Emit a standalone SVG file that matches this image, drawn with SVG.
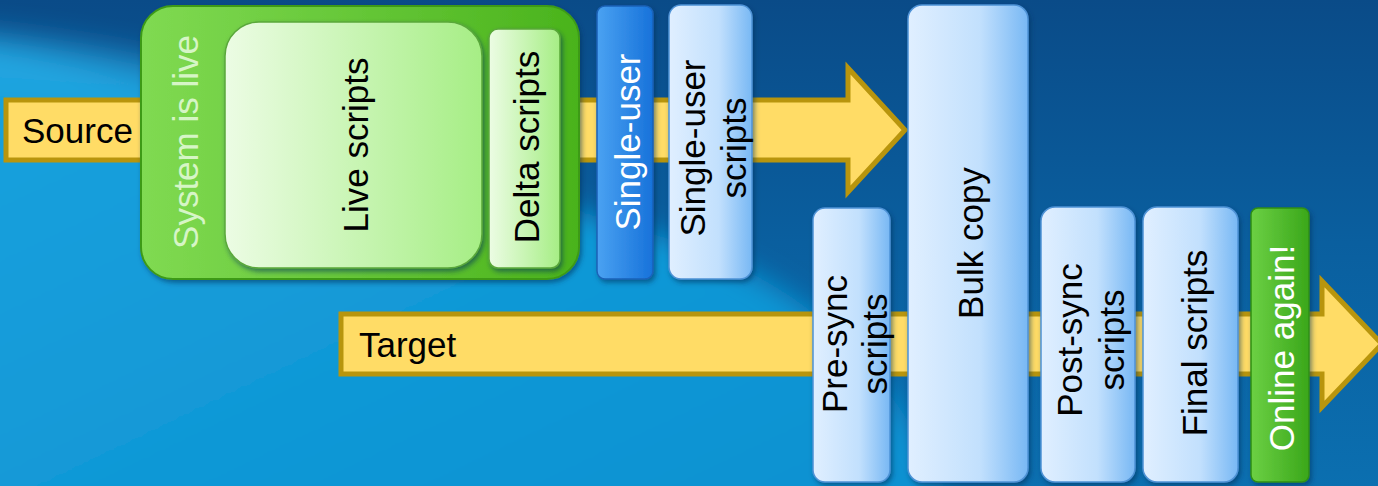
<svg xmlns="http://www.w3.org/2000/svg" width="1378" height="486" viewBox="0 0 1378 486">
<defs>
<linearGradient id="bg" x1="0" y1="0" x2="0" y2="1">
<stop offset="0" stop-color="#0a4b88"/>
<stop offset="0.5" stop-color="#0a5f9f"/>
<stop offset="1" stop-color="#0b6fb0"/>
</linearGradient>
<linearGradient id="swoosh" x1="0" y1="0" x2="1" y2="1">
<stop offset="0" stop-color="#18a2de"/>
<stop offset="1" stop-color="#0b90d0"/>
</linearGradient>
<linearGradient id="gOuter" x1="0" y1="0" x2="1" y2="0">
<stop offset="0" stop-color="#80da52"/>
<stop offset="1" stop-color="#4ab31c"/>
</linearGradient>
<linearGradient id="gInner" x1="0" y1="0" x2="1" y2="0">
<stop offset="0" stop-color="#ecfce4"/>
<stop offset="1" stop-color="#a6ee85"/>
</linearGradient>
<linearGradient id="gOnline" x1="0" y1="0" x2="1" y2="0">
<stop offset="0" stop-color="#6cd044"/>
<stop offset="1" stop-color="#3aa71a"/>
</linearGradient>
<linearGradient id="bLight" x1="0" y1="0" x2="1" y2="0">
<stop offset="0" stop-color="#e0efff"/>
<stop offset="0.6" stop-color="#c2e0fd"/>
<stop offset="1" stop-color="#78b8f4"/>
</linearGradient>
<linearGradient id="bDark" x1="0" y1="0" x2="1" y2="0">
<stop offset="0" stop-color="#4aa2f2"/>
<stop offset="1" stop-color="#1772da"/>
</linearGradient>
<filter id="sh" x="-20%" y="-10%" width="140%" height="120%">
<feDropShadow dx="2" dy="3" stdDeviation="2.5" flood-color="#02305a" flood-opacity="0.55"/>
</filter>
<filter id="blur" x="-10%" y="-10%" width="120%" height="120%">
<feGaussianBlur stdDeviation="14"/>
</filter>
</defs>
<style>
.arrow{fill:#ffdc66;stroke:#b8950d;stroke-width:5;stroke-linejoin:miter}
.t{font-family:"Liberation Sans",Arial,sans-serif;font-size:35px;fill:#000}
.w{fill:#ffffff}
.lg{fill:#d6f5c6}
.light{fill:url(#bLight);stroke:#4e92d6;stroke-width:1.5}
.dark{fill:url(#bDark);stroke:#1a62b8;stroke-width:1.5}
</style>
<rect x="0" y="0" width="1378" height="486" fill="url(#bg)"/>
<g filter="url(#blur)">
<path d="M-40 40 C 200 80, 420 170, 620 225 C 790 270, 880 340, 960 520 L -40 520 Z" fill="url(#swoosh)"/>
<path d="M-40 30 C 150 45, 300 90, 420 140 L 400 170 C 260 120, 120 90, -40 85 Z" fill="#2aa8e2" opacity="0.6"/>
</g>

<g id="connectors">
<polygon id="source-arrow" class="arrow" points="6,100 848,100 848,68 905,130 848,192 848,160 6,160"/>
<polygon id="target-arrow" class="arrow" points="341,314 1322,314 1322,281 1382,344 1322,407 1322,374 341,374"/>
</g>

<g id="source-label"><text class="t" x="22" y="143">Source</text></g>
<g id="target-label"><text class="t" x="359" y="357">Target</text></g>

<g id="system-live">
<rect x="141" y="6" width="438" height="273" rx="32" fill="url(#gOuter)" stroke="#3d9a18" stroke-width="2" filter="url(#sh)"/>
<text class="t lg" transform="translate(185,142) rotate(-90)" text-anchor="middle" dominant-baseline="central">System is live</text>
</g>
<g id="live-scripts">
<rect x="225" y="22" width="257" height="246" rx="34" fill="url(#gInner)" stroke="#5aa83a" stroke-width="1.5" filter="url(#sh)"/>
<text class="t" transform="translate(355,145) rotate(-90)" text-anchor="middle" dominant-baseline="central">Live scripts</text>
</g>
<g id="delta-scripts">
<rect x="489" y="29" width="71" height="239" rx="9" fill="url(#gInner)" stroke="#5aa83a" stroke-width="1.5" filter="url(#sh)"/>
<text class="t" transform="translate(526,147) rotate(-90)" text-anchor="middle" dominant-baseline="central">Delta scripts</text>
</g>

<g id="single-user">
<rect x="597" y="6" width="56" height="273" rx="8" class="dark" filter="url(#sh)"/>
<text class="t w" transform="translate(627,142) rotate(-90)" text-anchor="middle" dominant-baseline="central">Single-user</text>
</g>
<g id="single-user-scripts">
<rect x="669" y="5" width="83" height="274" rx="12" class="light" filter="url(#sh)"/>
<text class="t" transform="translate(692,148) rotate(-90)" text-anchor="middle" dominant-baseline="central">Single-user</text>
<text class="t" transform="translate(733,148) rotate(-90)" text-anchor="middle" dominant-baseline="central">scripts</text>
</g>
<g id="pre-sync-scripts">
<rect x="813" y="208" width="77" height="274" rx="12" class="light" filter="url(#sh)"/>
<text class="t" transform="translate(834,344) rotate(-90)" text-anchor="middle" dominant-baseline="central">Pre-sync</text>
<text class="t" transform="translate(874,344) rotate(-90)" text-anchor="middle" dominant-baseline="central">scripts</text>
</g>
<g id="bulk-copy">
<rect x="908" y="5" width="120" height="477" rx="14" class="light" filter="url(#sh)"/>
<text class="t" transform="translate(970,243) rotate(-90)" text-anchor="middle" dominant-baseline="central">Bulk copy</text>
</g>
<g id="post-sync-scripts">
<rect x="1041" y="207" width="94" height="275" rx="14" class="light" filter="url(#sh)"/>
<text class="t" transform="translate(1069,340) rotate(-90)" text-anchor="middle" dominant-baseline="central">Post-sync</text>
<text class="t" transform="translate(1111,340) rotate(-90)" text-anchor="middle" dominant-baseline="central">scripts</text>
</g>
<g id="final-scripts">
<rect x="1143" y="207" width="95" height="275" rx="14" class="light" filter="url(#sh)"/>
<text class="t" transform="translate(1194,343) rotate(-90)" text-anchor="middle" dominant-baseline="central">Final scripts</text>
</g>
<g id="online-again">
<rect x="1251" y="208" width="58" height="274" rx="7" fill="url(#gOnline)" stroke="#2f8f12" stroke-width="1.5" filter="url(#sh)"/>
<text class="t w" transform="translate(1281,348) rotate(-90)" text-anchor="middle" dominant-baseline="central">Online again!</text>
</g>
</svg>
